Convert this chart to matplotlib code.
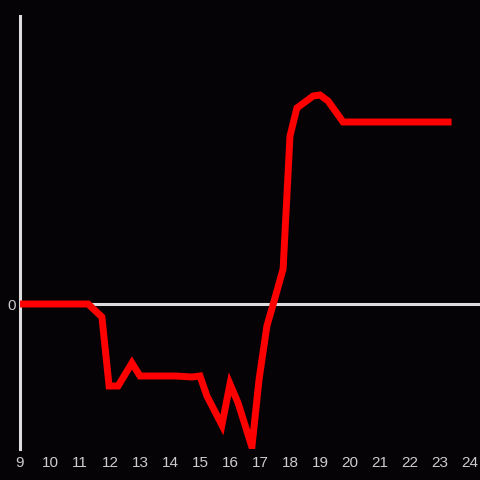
import matplotlib
matplotlib.use("Agg")
import matplotlib.pyplot as plt

hours = [9.0, 11.27, 11.73, 11.97, 12.27, 12.73, 13.0, 14.17, 14.73, 15.0, 15.23, 15.73,
         16.0, 16.27, 16.73, 16.97, 17.23, 17.47, 17.77, 18.0, 18.23, 18.77, 19.0, 19.27,
         19.77, 23.27]
values = [0, 0, -13, -82, -82, -59, -72, -72, -73, -72, -92, -121,
          -80, -99, -143, -75, -22, 3, 35, 168, 196, 208, 209, 203,
          182, 182]
xticks = list(range(9, 25))
yticks = [0]

bg = "#050306"
fig = plt.figure(figsize=(4.8, 4.8), dpi=100, facecolor=bg)
ax = fig.add_axes([20/480, 31/480, 460/480, 433/480], facecolor=bg)
ax.set_xlim(9, 9 + 460/30)
ax.set_ylim(-145, 288)

ax.axhline(0, color="#dddddd", lw=2.2, zorder=1)
ax.plot(hours, values, color="#ff0000", lw=5, solid_joinstyle="miter", zorder=3)

for s in ["top", "right", "bottom"]:
    ax.spines[s].set_visible(False)
ax.spines["left"].set_color("#dddddd")
ax.spines["left"].set_linewidth(2.2)

ax.set_xticks(xticks)
ax.set_xticklabels([str(t) for t in xticks])
ax.set_yticks(yticks)
ax.set_yticklabels(["0"])
ax.tick_params(axis="both", length=0, colors="#cccccc", labelsize=11)
ax.tick_params(axis="x", pad=5)
ax.tick_params(axis="y", pad=3)
for lab in ax.get_xticklabels() + ax.get_yticklabels():
    lab.set_fontfamily("Liberation Sans")

fig.savefig("out.png", dpi=100, facecolor=bg)
